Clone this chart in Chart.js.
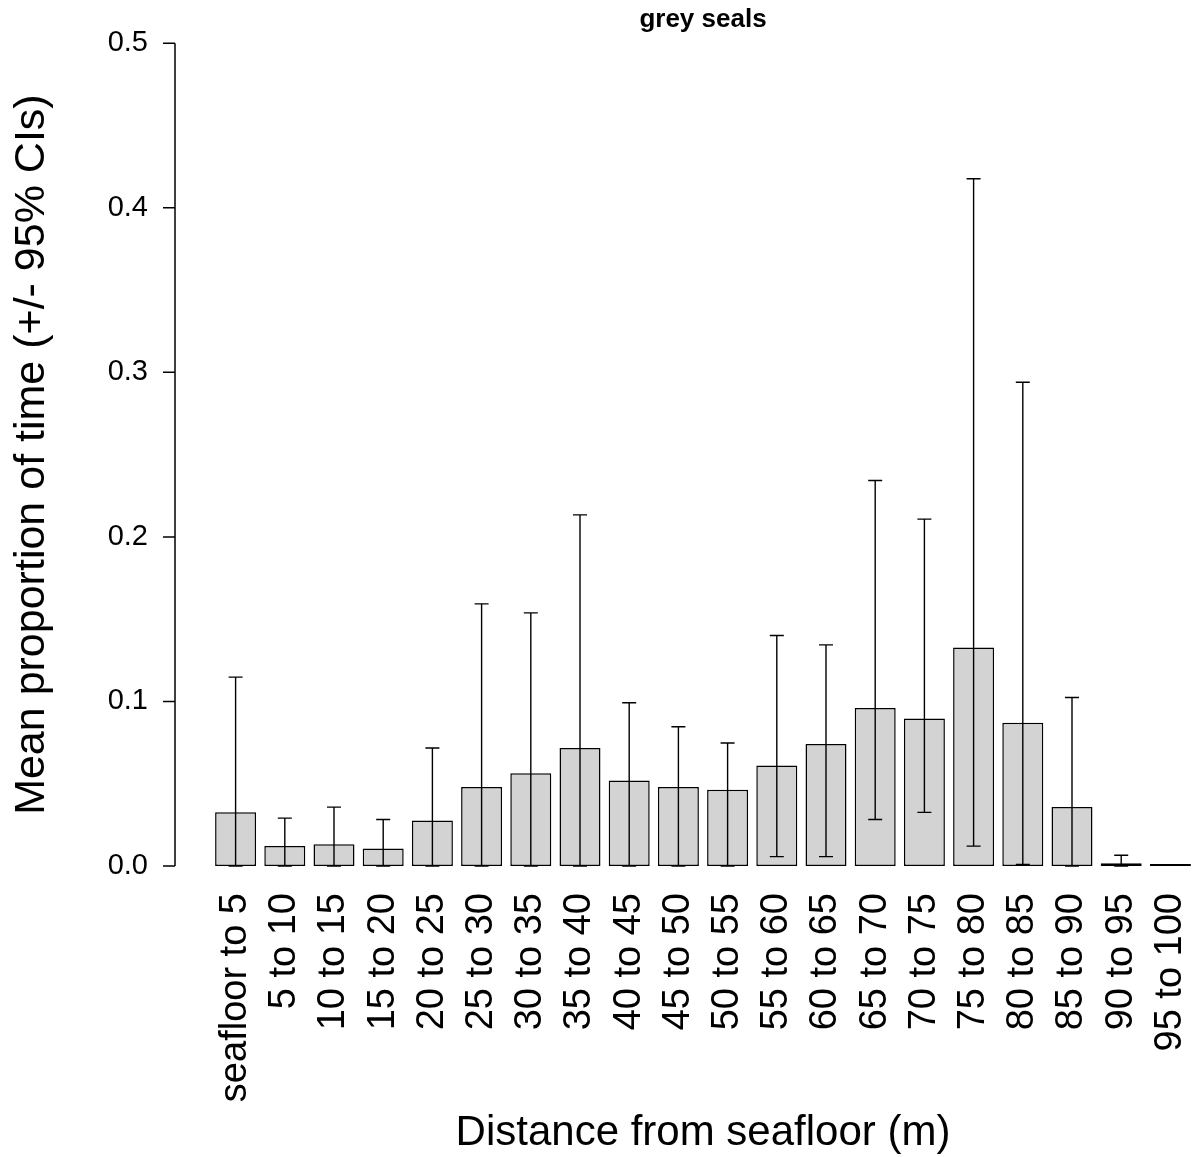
<!DOCTYPE html>
<html>
<head>
<meta charset="utf-8">
<script src="https://cdn.jsdelivr.net/npm/chart.js@4"></script>
<style>
  html, body { margin: 0; padding: 0; background: #fff; }
  #wrap { width: 1195px; height: 1157px; }
</style>
</head>
<body>
<div id="wrap"><canvas id="chart"></canvas></div>
<script>
// distance bins
const categories = ["seafloor to 5", "5 to 10", "10 to 15", "15 to 20", "20 to 25",
  "25 to 30", "30 to 35", "35 to 40", "40 to 45", "45 to 50", "50 to 55",
  "55 to 60", "60 to 65", "65 to 70", "70 to 75", "75 to 80", "80 to 85",
  "85 to 90", "90 to 95", "95 to 100"];

// mean proportion of time
const meanValues = [0.0326, 0.0121, 0.0132, 0.0107, 0.0277, 0.0480, 0.0563, 0.0717,
  0.0520, 0.0480, 0.0464, 0.0611, 0.0741, 0.0960, 0.0897, 0.1328, 0.0870,
  0.0358, 0.0016, 0];

// 95% CIs
const lowerCI = [0, 0, 0, 0, 0, 0, 0, 0, 0, 0, 0, 0.0057, 0.0057, 0.0283, 0.0326,
  0.0121, 0.0010, 0, 0, 0];
const upperCI = [0.1148, 0.0291, 0.0358, 0.0283, 0.0717, 0.1593, 0.1538, 0.2134,
  0.0992, 0.0846, 0.0747, 0.1401, 0.1344, 0.2343, 0.2108, 0.4176, 0.2940,
  0.1024, 0.0065, 0];

const yTicks = [0, 0.1, 0.2, 0.3, 0.4, 0.5];

// y axis line drawn at the left edge of the plot region (like R)
const axisX = 175;

const rAxisAndErrors = {
  id: 'rAxisAndErrors',
  afterDatasetsDraw(chart) {
    const ctx = chart.ctx;
    const y = chart.scales.y;
    const meta = chart.getDatasetMeta(0);
    ctx.save();
    ctx.strokeStyle = '#000';
    ctx.lineWidth = 1.4;
    // error bars
    meta.data.forEach((bar, i) => {
      const yLo = y.getPixelForValue(lowerCI[i]);
      const yHi = y.getPixelForValue(upperCI[i]);
      if (yLo - yHi < 0.5) return;
      ctx.beginPath();
      ctx.moveTo(bar.x, yLo);
      ctx.lineTo(bar.x, yHi);
      ctx.moveTo(bar.x - 7, yHi);
      ctx.lineTo(bar.x + 7, yHi);
      ctx.moveTo(bar.x - 7, yLo);
      ctx.lineTo(bar.x + 7, yLo);
      ctx.stroke();
    });
    // y axis
    ctx.lineWidth = 1.5;
    ctx.beginPath();
    ctx.moveTo(axisX, y.getPixelForValue(yTicks[0]));
    ctx.lineTo(axisX, y.getPixelForValue(yTicks[yTicks.length - 1]));
    yTicks.forEach(t => {
      const py = y.getPixelForValue(t);
      ctx.moveTo(axisX - 12, py);
      ctx.lineTo(axisX, py);
    });
    ctx.stroke();
    ctx.restore();
  }
};

function noPadding(scale) {
  scale.paddingTop = 0;
  scale.paddingBottom = 0;
  scale.paddingLeft = 0;
  scale.paddingRight = 0;
}

new Chart(document.getElementById('chart'), {
  type: 'bar',
  data: {
    labels: categories,
    datasets: [{
      data: meanValues,
      backgroundColor: '#d3d3d3',
      borderColor: '#000',
      borderWidth: 1.5,
      borderSkipped: false,
      minBarLength: 2,
      categoryPercentage: 1,
      barPercentage: 0.833
    }]
  },
  options: {
    responsive: true,
    maintainAspectRatio: false,
    animation: false,
    layout: { padding: 0 },
    plugins: {
      legend: { display: false },
      tooltip: { enabled: false },
      title: {
        display: true,
        text: 'grey seals',
        fullSize: false,
        color: '#000',
        font: { family: 'Liberation Sans, Arial, sans-serif', size: 26, weight: 'bold', lineHeight: 1.2 },
        padding: { top: 4, bottom: 8 }
      }
    },
    scales: {
      x: {
        grid: { display: false, drawTicks: false },
        border: { display: false },
        ticks: {
          color: '#000',
          minRotation: 90,
          maxRotation: 90,
          autoSkip: false,
          padding: 27,
          font: { family: 'Liberation Sans, Arial, sans-serif', size: 38 }
        },
        title: {
          display: true,
          text: 'Distance from seafloor (m)',
          color: '#000',
          font: { family: 'Liberation Sans, Arial, sans-serif', size: 42, lineHeight: 1 },
          padding: { top: 0, bottom: 3 }
        },
        afterFit(scale) { scale.height = 291; noPadding(scale); }
      },
      y: {
        min: 0,
        max: 0.5,
        grid: { display: false, drawTicks: false },
        border: { display: false },
        afterBuildTicks(scale) { scale.ticks = yTicks.map(v => ({ value: v })); },
        ticks: {
          color: '#000',
          padding: 63,
          font: { family: 'Liberation Sans, Arial, sans-serif', size: 29 },
          callback: v => v.toFixed(1)
        },
        title: {
          display: true,
          text: 'Mean proportion of time (+/- 95% CIs)',
          color: '#000',
          font: { family: 'Liberation Sans, Arial, sans-serif', size: 43, lineHeight: 1 },
          padding: { top: 11, bottom: 0 }
        },
        afterFit(scale) { scale.width = 211; noPadding(scale); }
      }
    }
  },
  plugins: [rAxisAndErrors]
});
</script>
</body>
</html>
